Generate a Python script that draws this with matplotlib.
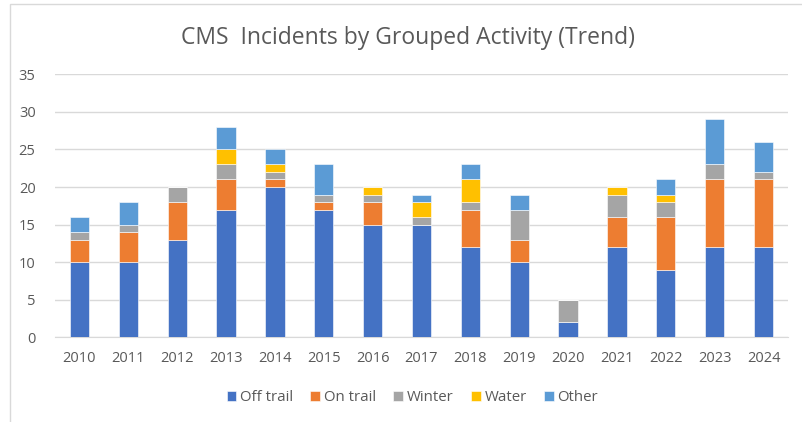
import matplotlib.pyplot as plt
import numpy as np
from matplotlib.patches import Rectangle

plt.rcParams['font.family'] = ['Open Sans', 'DejaVu Sans']

years = ['2010', '2011', '2012', '2013', '2014', '2015', '2016', '2017',
         '2018', '2019', '2020', '2021', '2022', '2023', '2024']
off_trail = [10, 10, 13, 17, 20, 17, 15, 15, 12, 10, 2, 12, 9, 12, 12]
on_trail = [3, 4, 5, 4, 1, 1, 3, 0, 5, 3, 0, 4, 7, 9, 9]
winter = [1, 1, 2, 2, 1, 1, 1, 1, 1, 4, 3, 3, 2, 2, 1]
water = [0, 0, 0, 2, 1, 0, 1, 2, 3, 0, 0, 1, 1, 0, 0]
other = [2, 3, 0, 3, 2, 4, 0, 1, 2, 2, 0, 0, 2, 6, 4]

series = [('Off trail', off_trail, '#4472C4'),
          ('On trail', on_trail, '#ED7D31'),
          ('Winter', winter, '#A5A5A5'),
          ('Water', water, '#FFC000'),
          ('Other', other, '#5B9BD5')]

txt = '#595959'
fig = plt.figure(figsize=(8.02, 4.22), dpi=100)
ax = fig.add_axes([0.0686, 0.2007, 0.9139, 0.6233])

x = np.arange(len(years))
bottom = np.zeros(len(years))
for name, vals, col in series:
    vals = np.array(vals)
    ax.bar(x, vals, 0.395, bottom=bottom, color=col, label=name,
           edgecolor='white', linewidth=0.4, zorder=3)
    bottom += vals

ax.set_xlim(-0.5, len(years) - 0.5)
ax.set_ylim(0, 35)
ax.set_yticks(range(0, 36, 5))
ax.set_xticks(x)
ax.set_xticklabels(years)
ax.grid(axis='y', color='#D9D9D9', linewidth=1, zorder=0)
for s in ['top', 'right', 'left']:
    ax.spines[s].set_visible(False)
ax.spines['bottom'].set_color('#D9D9D9')
ax.tick_params(axis='both', length=0, colors=txt, labelsize=10.5)
ax.tick_params(axis='x', pad=10)
ax.tick_params(axis='y', pad=14)

fig.text(0.509, 0.91, 'CMS  Incidents by Grouped Activity (Trend)', ha='center',
         va='center', fontsize=16.5, color=txt)

leg = fig.legend(loc='center', bbox_to_anchor=(0.514, 0.058), ncol=5, frameon=False,
                 fontsize=10.8, handlelength=0.65, handleheight=0.65,
                 handletextpad=0.25, columnspacing=1.15)
for t in leg.get_texts():
    t.set_color(txt)

fig.patches.append(Rectangle((10 / 802, -0.1), 1.2, 1 - 4 / 422 + 0.1,
                             transform=fig.transFigure, fill=False,
                             edgecolor='#D9D9D9', linewidth=1))

fig.savefig('out.png', dpi=100)
